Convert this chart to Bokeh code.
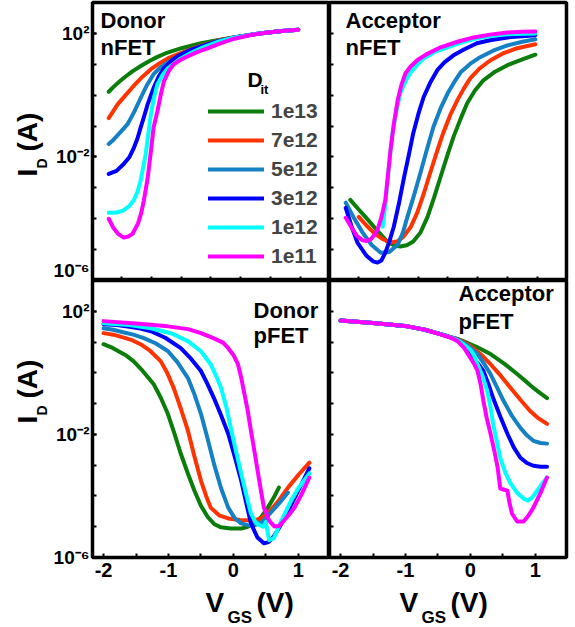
import math
from bokeh.plotting import figure
from bokeh.layouts import gridplot
from bokeh.models import (FixedTicker, Label, Legend, LegendItem, ColumnDataSource,
                          Range1d, CustomJSTickFormatter)
from bokeh.embed import file_html
from bokeh.resources import INLINE

# ---------------- data (V_GS in volts, log10 of I_D in amps) ----------------
SERIES = ["1e13", "7e12", "5e12", "3e12", "1e12", "1e11"]
COLORS = ["#0b7d0b", "#ff3300", "#1580c4", "#0000ff", "#00ffff", "#ff00ff"]

# Donor nFET
dn_1e13_v = [-1.92, -1.85, -1.75, -1.65, -1.55, -1.42, -1.3, -1.17, -1.05, -0.92, -0.8, -0.65, -0.5, -0.25, 0, 0.25, 0.5, 0.75, 1.0]
dn_1e13_l = [0.11, 0.26, 0.45, 0.62, 0.78, 0.95, 1.10, 1.24, 1.35, 1.44, 1.52, 1.60, 1.68, 1.78, 1.87, 1.95, 2.02, 2.08, 2.12]
dn_7e12_v = [-1.92, -1.85, -1.78, -1.66, -1.54, -1.4, -1.27, -1.14, -1.01, -0.85, -0.70, -0.5, -0.25, 0, 0.25, 0.5, 0.75, 1.0]
dn_7e12_l = [-0.74, -0.52, -0.29, 0.0, 0.29, 0.60, 0.84, 1.03, 1.19, 1.33, 1.45, 1.60, 1.76, 1.87, 1.95, 2.02, 2.08, 2.12]
dn_5e12_v = [-1.92, -1.85, -1.75, -1.63, -1.53, -1.43, -1.33, -1.23, -1.12, -1.01, -0.85, -0.70, -0.5, -0.25, 0, 0.25, 0.5, 0.75, 1.0]
dn_5e12_l = [-1.58, -1.45, -1.22, -0.94, -0.55, -0.10, 0.33, 0.68, 0.91, 1.06, 1.26, 1.42, 1.58, 1.75, 1.86, 1.95, 2.02, 2.08, 2.12]
dn_3e12_v = [-1.92, -1.8, -1.69, -1.6, -1.54, -1.48, -1.43, -1.37, -1.32, -1.23, -1.15, -1.07, -0.96, -0.86, -0.7, -0.5, -0.25, 0, 0.25, 0.5, 0.75, 1.0]
dn_3e12_l = [-2.55, -2.45, -2.23, -2.0, -1.74, -1.42, -1.06, -0.65, -0.29, 0.23, 0.60, 0.87, 1.10, 1.26, 1.43, 1.58, 1.74, 1.86, 1.95, 2.02, 2.08, 2.12]
dn_1e12_v = [-1.92, -1.8, -1.7, -1.6, -1.54, -1.48, -1.43, -1.39, -1.35, -1.31, -1.27, -1.22, -1.17, -1.09, -1.01, -0.9, -0.81, -0.65, -0.5, -0.25, 0, 0.25, 0.5, 0.75, 1.0]
dn_1e12_l = [-3.81, -3.80, -3.74, -3.58, -3.42, -3.15, -2.77, -2.35, -1.90, -1.25, -0.61, -0.05, 0.35, 0.66, 0.87, 1.05, 1.19, 1.37, 1.52, 1.72, 1.86, 1.95, 2.02, 2.08, 2.12]
dn_1e11_v = [-1.92, -1.85, -1.77, -1.69, -1.62, -1.55, -1.47, -1.42, -1.38, -1.32, -1.27, -1.23, -1.17, -1.12, -1.07, -0.99, -0.92, -0.80, -0.70, -0.55, -0.39, -0.2, 0, 0.25, 0.5, 0.75, 1.0]
dn_1e11_l = [-4.0, -4.29, -4.50, -4.61, -4.58, -4.48, -4.16, -3.82, -3.42, -2.68, -1.81, -1.06, -0.52, 0.0, 0.45, 0.80, 1.0, 1.16, 1.26, 1.40, 1.52, 1.68, 1.82, 1.94, 2.02, 2.08, 2.12]

# Acceptor nFET
an_1e13_v = [-1.85, -1.72, -1.58, -1.42, -1.28, -1.18, -1.08, -0.98, -0.88, -0.77, -0.66, -0.56, -0.46, -0.36, -0.26, -0.15, -0.05, 0.07, 0.2, 0.38, 0.57, 0.8, 1.0]
an_1e13_l = [-3.39, -3.70, -4.03, -4.42, -4.74, -4.86, -4.90, -4.86, -4.74, -4.45, -3.94, -3.32, -2.65, -1.98, -1.35, -0.76, -0.26, 0.15, 0.48, 0.76, 0.97, 1.16, 1.31]
an_7e12_v = [-1.72, -1.6, -1.49, -1.35, -1.23, -1.13, -1.03, -0.92, -0.82, -0.72, -0.62, -0.52, -0.42, -0.31, -0.2, -0.1, 0.0, 0.15, 0.31, 0.5, 0.72, 1.0]
an_7e12_l = [-3.94, -4.22, -4.45, -4.66, -4.77, -4.74, -4.58, -4.27, -3.81, -3.20, -2.52, -1.86, -1.23, -0.64, -0.16, 0.22, 0.55, 0.88, 1.13, 1.35, 1.52, 1.65]
an_5e12_v = [-1.92, -1.8, -1.66, -1.52, -1.38, -1.25, -1.12, -1.04, -0.97, -0.87, -0.77, -0.67, -0.57, -0.46, -0.35, -0.25, -0.15, 0.0, 0.15, 0.35, 0.57, 0.8, 1.0]
an_5e12_l = [-3.48, -3.95, -4.45, -4.85, -5.10, -5.08, -4.84, -4.45, -3.94, -3.25, -2.52, -1.76, -1.03, -0.43, 0.06, 0.42, 0.74, 1.02, 1.23, 1.44, 1.61, 1.73, 1.81]
an_3e12_v = [-1.92, -1.83, -1.74, -1.6, -1.5, -1.43, -1.37, -1.31, -1.25, -1.18, -1.1, -1.03, -0.95, -0.88, -0.8, -0.72, -0.62, -0.51, -0.4, -0.26, -0.1, 0.1, 0.3, 0.57, 0.8, 1.0]
an_3e12_l = [-3.65, -4.25, -4.77, -5.20, -5.38, -5.42, -5.35, -5.10, -4.75, -4.26, -3.50, -2.74, -1.95, -1.23, -0.60, -0.06, 0.40, 0.81, 1.06, 1.29, 1.48, 1.68, 1.78, 1.87, 1.91, 1.94]
an_1e12_v = [-1.35, -1.31, -1.28, -1.24, -1.2, -1.14, -1.08, -1.0, -0.92, -0.82, -0.72, -0.55, -0.35, -0.1, 0.1, 0.35, 0.57, 0.8, 1.0]
an_1e12_l = [-4.26, -3.55, -2.84, -2.02, -1.23, -0.52, 0.06, 0.45, 0.74, 0.98, 1.19, 1.40, 1.55, 1.73, 1.84, 1.92, 1.97, 1.99, 2.0]
an_1e11_v = [-1.92, -1.84, -1.75, -1.66, -1.6, -1.53, -1.47, -1.43, -1.37, -1.31, -1.27, -1.23, -1.18, -1.12, -1.06, -1.0, -0.92, -0.82, -0.68, -0.46, -0.2, 0.05, 0.3, 0.57, 0.8, 1.0]
an_1e11_l = [-3.97, -4.25, -4.55, -4.70, -4.72, -4.66, -4.50, -4.35, -3.95, -3.39, -2.60, -1.77, -0.95, -0.16, 0.35, 0.71, 0.93, 1.13, 1.32, 1.55, 1.73, 1.87, 1.96, 2.03, 2.05, 2.06]

# Donor pFET
dp_1e13_v = [-2.0, -1.88, -1.77, -1.65, -1.54, -1.4, -1.23, -1.12, -1.01, -0.91, -0.81, -0.7, -0.6, -0.5, -0.39, -0.29, -0.19, -0.04, 0.12, 0.22, 0.32, 0.43, 0.53, 0.62, 0.70]
dp_1e13_l = [0.93, 0.83, 0.70, 0.56, 0.38, 0.07, -0.36, -0.80, -1.33, -1.96, -2.63, -3.28, -3.83, -4.32, -4.70, -4.92, -5.02, -5.06, -5.06, -5.00, -4.89, -4.68, -4.38, -4.06, -3.73]
dp_7e12_v = [-2.0, -1.85, -1.7, -1.56, -1.43, -1.28, -1.12, -1.02, -0.92, -0.81, -0.7, -0.6, -0.5, -0.42, -0.35, -0.22, -0.08, 0.1, 0.32, 0.43, 0.53, 0.68, 0.84, 1.0, 1.17]
dp_7e12_l = [1.29, 1.24, 1.15, 1.06, 0.93, 0.71, 0.38, 0.0, -0.49, -1.16, -1.88, -2.72, -3.50, -4.00, -4.38, -4.63, -4.73, -4.78, -4.80, -4.72, -4.57, -4.20, -3.73, -3.32, -2.92]
dp_5e12_v = [-2.0, -1.85, -1.7, -1.54, -1.38, -1.2, -1.01, -0.86, -0.7, -0.6, -0.5, -0.4, -0.3, -0.19, -0.08, 0.02, 0.12, 0.22, 0.32, 0.44, 0.55, 0.7, 0.84]
dp_5e12_l = [1.45, 1.40, 1.32, 1.24, 1.13, 0.96, 0.71, 0.34, -0.17, -0.70, -1.33, -2.12, -2.95, -3.75, -4.38, -4.72, -4.89, -4.95, -4.96, -4.85, -4.60, -4.25, -3.89]
dp_3e12_v = [-2.0, -1.8, -1.6, -1.43, -1.27, -1.05, -0.81, -0.65, -0.5, -0.4, -0.3, -0.19, -0.08, 0.02, 0.12, 0.2, 0.27, 0.37, 0.47, 0.54, 0.61, 0.7, 0.79, 0.9, 1.0, 1.17]
dp_3e12_l = [1.58, 1.55, 1.50, 1.44, 1.35, 1.14, 0.80, 0.45, 0.06, -0.36, -0.82, -1.38, -1.98, -2.72, -3.50, -4.25, -4.89, -5.35, -5.54, -5.50, -5.35, -5.05, -4.70, -4.25, -3.83, -3.10]
dp_1e12_v = [-2.0, -1.6, -1.27, -0.95, -0.7, -0.5, -0.35, -0.27, -0.19, -0.11, -0.04, 0.04, 0.12, 0.2, 0.27, 0.34, 0.40, 0.46, 0.5, 0.55, 0.62, 0.68, 0.74, 0.82, 0.89, 1.0, 1.17]
dp_1e12_l = [1.61, 1.55, 1.45, 1.28, 1.03, 0.70, 0.28, -0.08, -0.49, -1.10, -1.79, -2.55, -3.27, -3.98, -4.57, -4.85, -4.95, -5.00, -4.85, -5.44, -5.38, -5.10, -4.80, -4.45, -4.15, -3.75, -3.27]
dp_1e11_v = [-2.0, -1.5, -1.01, -0.7, -0.5, -0.3, -0.16, -0.08, 0.0, 0.07, 0.12, 0.16, 0.22, 0.27, 0.33, 0.38, 0.43, 0.47, 0.55, 0.63, 0.7, 0.78, 0.86, 0.94, 1.05, 1.17]
dp_1e11_l = [1.68, 1.60, 1.51, 1.42, 1.29, 1.12, 0.98, 0.80, 0.58, 0.28, -0.15, -0.59, -1.22, -1.88, -2.62, -3.27, -3.90, -4.38, -4.80, -4.99, -4.98, -4.80, -4.60, -4.38, -3.95, -3.40]

# Acceptor pFET
ap_1e13_v = [-2, -1.5, -0.97, -0.7, -0.46, -0.3, -0.2, -0.11, 0.1, 0.31, 0.52, 0.72, 0.85, 0.97, 1.08, 1.18]
ap_1e13_l = [1.70, 1.62, 1.51, 1.40, 1.26, 1.16, 1.10, 1.03, 0.84, 0.61, 0.30, -0.04, -0.27, -0.49, -0.67, -0.82]
ap_7e12_v = [-2, -1.5, -0.97, -0.7, -0.46, -0.3, -0.2, -0.1, 0.0, 0.15, 0.31, 0.47, 0.62, 0.78, 0.92, 1.05, 1.18]
ap_7e12_l = [1.70, 1.62, 1.51, 1.40, 1.26, 1.15, 1.09, 0.99, 0.87, 0.62, 0.28, -0.10, -0.49, -0.90, -1.24, -1.48, -1.66]
ap_5e12_v = [-2, -1.5, -0.97, -0.7, -0.46, -0.3, -0.2, -0.05, 0.11, 0.21, 0.31, 0.41, 0.51, 0.64, 0.77, 0.87, 0.97, 1.08, 1.18]
ap_5e12_l = [1.70, 1.62, 1.51, 1.40, 1.26, 1.15, 1.08, 0.90, 0.61, 0.30, -0.04, -0.47, -0.91, -1.40, -1.79, -2.03, -2.21, -2.28, -2.30]
ap_3e12_v = [-2, -1.5, -0.97, -0.7, -0.46, -0.3, -0.2, -0.08, 0.03, 0.12, 0.2, 0.28, 0.35, 0.46, 0.57, 0.67, 0.77, 0.87, 0.97, 1.08, 1.18]
ap_3e12_l = [1.70, 1.62, 1.51, 1.40, 1.26, 1.15, 1.07, 0.85, 0.50, 0.30, 0.06, -0.38, -0.82, -1.42, -1.98, -2.43, -2.76, -2.93, -3.02, -3.05, -3.05]
ap_1e12_v = [-2, -1.5, -0.97, -0.7, -0.46, -0.3, -0.2, -0.1, 0.0, 0.06, 0.11, 0.19, 0.26, 0.31, 0.35, 0.41, 0.46, 0.54, 0.62, 0.72, 0.82, 0.88, 0.95, 1.03, 1.1, 1.18]
ap_1e12_l = [1.70, 1.62, 1.51, 1.40, 1.26, 1.15, 1.06, 0.92, 0.75, 0.55, 0.28, -0.12, -0.59, -1.12, -1.66, -2.25, -2.76, -3.25, -3.60, -3.90, -4.08, -4.15, -4.06, -3.83, -3.62, -3.40]
ap_1e11_v = [-2, -1.5, -0.97, -0.7, -0.46, -0.3, -0.2, -0.1, 0.0, 0.06, 0.11, 0.16, 0.2, 0.25, 0.31, 0.37, 0.42, 0.46, 0.51, 0.57, 0.6, 0.64, 0.72, 0.82, 0.9, 0.97, 1.08, 1.18]
ap_1e11_l = [1.70, 1.62, 1.51, 1.40, 1.25, 1.14, 1.03, 0.82, 0.48, 0.28, 0.06, -0.40, -0.91, -1.45, -1.98, -2.55, -3.08, -3.76, -3.79, -3.83, -4.20, -4.57, -4.83, -4.83, -4.62, -4.38, -3.90, -3.40]

PANELS = {
    "dn": [(dn_1e13_v, dn_1e13_l), (dn_7e12_v, dn_7e12_l), (dn_5e12_v, dn_5e12_l),
           (dn_3e12_v, dn_3e12_l), (dn_1e12_v, dn_1e12_l), (dn_1e11_v, dn_1e11_l)],
    "an": [(an_1e13_v, an_1e13_l), (an_7e12_v, an_7e12_l), (an_5e12_v, an_5e12_l),
           (an_3e12_v, an_3e12_l), (an_1e12_v, an_1e12_l), (an_1e11_v, an_1e11_l)],
    "dp": [(dp_1e13_v, dp_1e13_l), (dp_7e12_v, dp_7e12_l), (dp_5e12_v, dp_5e12_l),
           (dp_3e12_v, dp_3e12_l), (dp_1e12_v, dp_1e12_l), (dp_1e11_v, dp_1e11_l)],
    "ap": [(ap_1e13_v, ap_1e13_l), (ap_7e12_v, ap_7e12_l), (ap_5e12_v, ap_5e12_l),
           (ap_3e12_v, ap_3e12_l), (ap_1e12_v, ap_1e12_l), (ap_1e11_v, ap_1e11_l)],
}

X_TICKS = [-2, -1, 0, 1]
X_MINOR = [-1.5, -0.5, 0.5]
TOP_X_TICKS = [-1.72, -1.26, -0.8, -0.35, 0.11, 0.57, 1.03]
Y_LABELED = [1e-6, 1e-2, 1e2]
Y_DECADES = [10.0 ** k for k in range(-6, 4)]

FONT = "Liberation Sans"

# frame boxes in page pixels: left, right, top, bottom
FRAMES = {
    "dn": (92, 329, 2, 280),
    "an": (329, 566, 2, 280),
    "dp": (92, 329, 280, 557),
    "ap": (329, 566, 280, 557),
    "yl_top": (0, 49, 0, 280),
    "yl_bot": (0, 49, 280, 586),
    "xl_left": (49, 329, 586, 627),
    "xl_right": (329, 575, 586, 627),
}
# whole cell boxes of the main plots (page pixels)
CELLS = {
    "dn": (49, 329, 0, 280),
    "an": (329, 575, 0, 280),
    "dp": (49, 329, 280, 586),
    "ap": (329, 575, 280, 586),
}

SUP_FMT = CustomJSTickFormatter(code="""
const e = Math.round(Math.log10(tick));
const m = {"-6": "\u207b\u2076", "-2": "\u207b\u00b2", "2": "\u00b2"};
return "10" + (m[String(e)] || "");
""")
PLAIN_FMT = CustomJSTickFormatter(code="return String(tick);")


def style_ticks(ax):
    ax.axis_line_color = None
    ax.major_tick_in = 4
    ax.major_tick_out = 0
    ax.minor_tick_in = 4
    ax.minor_tick_out = 0
    ax.major_tick_line_width = 2
    ax.minor_tick_line_width = 2
    ax.major_label_text_color = "black"


def make_fig(key, left_labels, bottom_labels):
    l, r, t, b = FRAMES[key]
    cl, cr, ct, cb = CELLS[key]
    ml, mr, mt, mb = l - cl, cr - r, t - ct, cb - b
    p = figure(width=cr - cl, height=cb - ct, x_range=Range1d(-2.17, 1.48),
               y_range=Range1d(1e-6, 1e3), y_axis_type="log", output_backend="svg",
               toolbar_location=None, min_border_left=ml, min_border_right=mr,
               min_border_top=mt, min_border_bottom=mb)
    p.grid.visible = False
    p.outline_line_color = "black"
    p.outline_line_width = 3.5
    p.background_fill_color = "white"
    p.border_fill_color = "white"

    ya = p.yaxis[0]
    style_ticks(ya)
    if left_labels:
        ya.ticker = FixedTicker(ticks=Y_LABELED, minor_ticks=Y_DECADES)
        ya.formatter = SUP_FMT
        ya.major_label_text_font = FONT
        ya.major_label_text_font_style = "bold"
        ya.major_label_text_font_size = "19px"
        ya.major_label_standoff = 3
    else:
        ya.ticker = FixedTicker(ticks=[], minor_ticks=Y_DECADES)
        ya.major_label_standoff = 0

    xa = p.xaxis[0]
    style_ticks(xa)
    if bottom_labels:
        xa.ticker = FixedTicker(ticks=X_TICKS, minor_ticks=X_MINOR)
        xa.formatter = PLAIN_FMT
        xa.major_label_text_font = FONT
        xa.major_label_text_font_style = "bold"
        xa.major_label_text_font_size = "20px"
        xa.major_label_standoff = 5
    else:
        xa.ticker = FixedTicker(ticks=[], minor_ticks=TOP_X_TICKS)
        xa.major_label_standoff = 0

    renderers = []
    for (vs, ls), col in zip(PANELS[key], COLORS):
        src = ColumnDataSource(dict(x=vs, y=[10.0 ** v for v in ls]))
        renderers.append(p.line("x", "y", source=src, line_color=col, line_width=4,
                                line_join="round", line_cap="round"))
    return p, renderers


def make_text_fig(key):
    l, r, t, b = FRAMES[key]
    p = figure(width=r - l, height=b - t, x_axis_type=None, y_axis_type=None,
               output_backend="svg", toolbar_location=None,
               min_border_left=0, min_border_right=0, min_border_top=0, min_border_bottom=0,
               x_range=Range1d(0, 1), y_range=Range1d(0, 1))
    p.grid.visible = False
    p.outline_line_color = None
    p.background_fill_color = "white"
    p.border_fill_color = "white"
    return p


def add_text(p, key, px, py, text, size, angle=0.0):
    """px: left edge of text, py: vertical centre of its capitals (page pixels)."""
    l, r, t, b = FRAMES[key]
    p.add_layout(Label(x=px - l, y=b - py, x_units="screen", y_units="screen", text=text,
                       angle=angle, text_font=FONT, text_font_style="bold",
                       text_font_size=size, text_color="black",
                       text_align="left", text_baseline="middle"))


p_dn, r_dn = make_fig("dn", True, False)
p_an, _ = make_fig("an", False, False)
p_dp, _ = make_fig("dp", True, True)
p_ap, _ = make_fig("ap", False, True)
p_yl_top = make_text_fig("yl_top")
p_yl_bot = make_text_fig("yl_bot")
p_xl_left = make_text_fig("xl_left")
p_xl_right = make_text_fig("xl_right")

# panel titles
add_text(p_dn, "dn", 100, 20, "Donor", "22px")
add_text(p_dn, "dn", 100, 47, "nFET", "22px")
add_text(p_an, "an", 345, 20, "Acceptor", "22px")
add_text(p_an, "an", 345, 47, "nFET", "22px")
add_text(p_dp, "dp", 253, 310, "Donor", "22px")
add_text(p_dp, "dp", 253, 335, "pFET", "22px")
add_text(p_ap, "ap", 458, 293, "Acceptor", "22px")
add_text(p_ap, "ap", 458, 321, "pFET", "22px")

# y axis titles I_D(A)
for p, key, dy in ((p_yl_top, "yl_top", 0), (p_yl_bot, "yl_bot", 276)):
    add_text(p, key, 27, 176 + dy, "I", "28px", math.pi / 2)
    add_text(p, key, 41, 168 + dy, "D", "14px", math.pi / 2)
    add_text(p, key, 27, 151 + dy, "(A)", "28px", math.pi / 2)

# x axis titles V_GS(V)
for p, key, l in ((p_xl_left, "xl_left", 92), (p_xl_right, "xl_right", 329)):
    add_text(p, key, l + 70, 602, "V", "28px")
    add_text(p, key, l + 92, 617, "GS", "17px")
    add_text(p, key, l + 121, 602, "(V)", "28px")

# legend title D_it
add_text(p_dn, "dn", 247, 79, "D", "21px")
add_text(p_dn, "dn", 260, 89, "it", "13px")

legend = Legend(items=[LegendItem(label=s, renderers=[r]) for s, r in zip(SERIES, r_dn)],
                location=(116, 12), padding=0, margin=0, spacing=5,
                label_height=20, glyph_height=20, glyph_width=56, label_standoff=7,
                label_text_font=FONT, label_text_font_style="bold", label_text_font_size="21px",
                background_fill_alpha=0, border_line_alpha=0)
p_dn.add_layout(legend)

grid = gridplot([[p_yl_top, p_dn, p_an],
                 [p_yl_bot, p_dp, p_ap],
                 [None, p_xl_left, p_xl_right]], toolbar_location=None)

with open("out.html", "w", encoding="utf-8") as f:
    f.write(file_html(grid, INLINE))
